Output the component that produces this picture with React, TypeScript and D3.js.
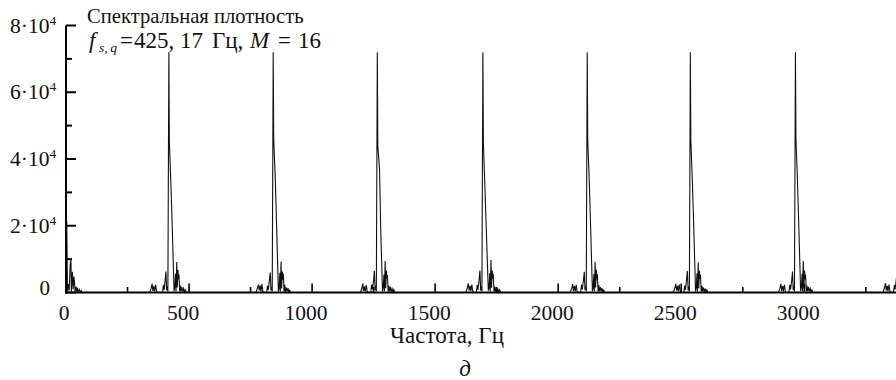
import React from 'react';
import * as d3 from 'd3';

// Spectral density samples: [frequency, Hz; density]
const dcComponent: [number, number][] = [
  [0, 22500], [3, 21000], [6, 400], [10, 2500], [13, 600], [17, 8500], [20, 9800], [22, 400],
  [26, 6200], [29, 900], [32, 4800], [34, 3600], [37, 300], [41, 1800], [43, 300], [47, 1400],
  [49, 200], [54, 900], [57, 100], [62, 600], [66, 0],
];

const harmonic1: [number, number][] = [
  [340, 0], [346, 1300], [350, 2600], [353, 500], [357, 1900], [360, 300], [364, 2300], [368, 400], [372, 0],
  [392, 0], [396, 2300], [399, 800], [403, 3800], [406, 6300], [409, 700], [412, 1900], [414, 300],
  [418, 72000], [420, 45000], [426, 33000], [432, 19000], [439, 400],
  [442, 1500], [445, 5600], [447, 400], [450, 9100], [452, 1500], [455, 6700], [457, 4000], [459, 5400],
  [462, 400], [465, 2100], [467, 300], [471, 1600], [474, 300], [478, 1200], [481, 200], [485, 800], [489, 0],
];

const harmonic2: [number, number][] = [
  [772, 0], [778, 1400], [782, 2400], [785, 600], [789, 2100], [792, 300], [796, 2500], [800, 300], [804, 0],
  [815, 0], [819, 2000], [822, 700], [827, 4100], [830, 6000], [833, 600], [836, 1700], [838, 300],
  [842, 72000], [844, 46000], [850, 35000], [856, 19500], [863, 300],
  [866, 1200], [869, 5900], [871, 300], [874, 9300], [876, 1200], [879, 6300], [881, 3800], [883, 5700],
  [886, 300], [889, 2300], [891, 200], [895, 1500], [898, 300], [902, 1300], [905, 200], [909, 700], [913, 0],
];

const harmonic3: [number, number][] = [
  [1196, 0], [1202, 1200], [1206, 2700], [1209, 500], [1213, 1800], [1216, 300], [1220, 2200], [1224, 300], [1228, 0],
  [1238, 0], [1242, 2400], [1245, 900], [1250, 3600], [1253, 6500], [1256, 700], [1259, 2000], [1261, 300],
  [1265, 72000], [1267, 44000], [1274, 37000], [1279, 18600], [1286, 400],
  [1289, 1400], [1292, 5400], [1294, 400], [1297, 9400], [1299, 1300], [1302, 6600], [1304, 4200], [1306, 5200],
  [1309, 300], [1312, 2000], [1314, 300], [1318, 1700], [1321, 200], [1325, 1100], [1328, 200], [1332, 900], [1336, 0],
];

const harmonic4: [number, number][] = [
  [1625, 0], [1631, 1500], [1635, 2700], [1638, 600], [1642, 2000], [1645, 400], [1649, 2400], [1653, 300], [1657, 0],
  [1667, 0], [1671, 2200], [1674, 800], [1679, 4000], [1682, 6600], [1685, 600], [1688, 1800], [1690, 300],
  [1694, 72000], [1696, 44800], [1702, 32000], [1708, 18600], [1716, 600],
  [1719, 1300], [1722, 5800], [1724, 300], [1727, 9700], [1729, 1400], [1732, 6600], [1734, 4100], [1736, 5600],
  [1739, 300], [1742, 1800], [1744, 300], [1748, 1500], [1751, 200], [1755, 1200], [1758, 200], [1762, 800], [1766, 0],
];

const harmonic5: [number, number][] = [
  [2049, 0], [2055, 1300], [2059, 2500], [2062, 500], [2066, 1900], [2069, 300], [2073, 2300], [2077, 300], [2081, 0],
  [2091, 0], [2095, 2300], [2098, 900], [2103, 3900], [2106, 6200], [2109, 700], [2112, 1900], [2114, 300],
  [2118, 72000], [2120, 46000], [2126, 34000], [2132, 19000], [2139, 400],
  [2142, 1500], [2145, 5500], [2147, 400], [2150, 9200], [2152, 1500], [2155, 6800], [2157, 3900], [2159, 5500],
  [2162, 400], [2165, 2200], [2167, 300], [2171, 1600], [2174, 300], [2178, 1300], [2181, 200], [2185, 700], [2189, 0],
];

const harmonic6: [number, number][] = [
  [2468, 0], [2474, 1400], [2478, 2600], [2481, 600], [2485, 2000], [2488, 300], [2492, 2400], [2496, 400], [2500, 0],
  [2510, 0], [2514, 2100], [2517, 800], [2522, 4200], [2525, 6400], [2528, 600], [2531, 1800], [2533, 300],
  [2537, 72000], [2539, 45500], [2545, 33500], [2551, 19200], [2558, 400],
  [2561, 1400], [2564, 5700], [2566, 300], [2569, 9000], [2571, 1300], [2574, 6500], [2576, 4000], [2578, 5300],
  [2581, 300], [2584, 2000], [2586, 300], [2590, 1500], [2593, 200], [2597, 1200], [2600, 200], [2604, 800], [2608, 0],
];

const harmonic7: [number, number][] = [
  [2895, 0], [2901, 1300], [2905, 2600], [2908, 500], [2912, 1900], [2915, 300], [2919, 2300], [2923, 300], [2927, 0],
  [2937, 0], [2941, 2300], [2944, 900], [2949, 3700], [2952, 6300], [2955, 700], [2958, 1900], [2960, 300],
  [2964, 72000], [2966, 46000], [2972, 34000], [2978, 19000], [2985, 400],
  [2988, 1500], [2991, 5600], [2993, 400], [2996, 9400], [2998, 1400], [3001, 6600], [3003, 4000], [3005, 5400],
  [3008, 400], [3011, 2100], [3013, 300], [3017, 1600], [3020, 300], [3024, 1200], [3027, 200], [3031, 800], [3035, 0],
];

const harmonic8: [number, number][] = [
  [3320, 0], [3326, 1500], [3330, 2800], [3333, 600], [3337, 2000], [3340, 400], [3344, 2400], [3348, 300], [3352, 0],
  [3362, 0], [3366, 2200], [3369, 900], [3374, 4000], [3377, 6300], [3380, 700], [3383, 1900], [3385, 300],
  [3389, 72000], [3391, 46000], [3397, 34000], [3403, 19000], [3410, 400],
];

const spectrum: [number, number][] = [
  ...dcComponent, ...harmonic1, ...harmonic2, ...harmonic3, ...harmonic4,
  ...harmonic5, ...harmonic6, ...harmonic7, ...harmonic8,
];

const xMajorTicks = [0, 500, 1000, 1500, 2000, 2500, 3000];
const xMinorTicks = [250, 750, 1250, 1750, 2250, 2750, 3250];
const yMajorTicks = [0, 20000, 40000, 60000, 80000];
const yMinorTicks = [10000, 30000, 50000, 70000];
const yTickMantissas = ['0', '2', '4', '6', '8'];

const W = 896;
const H = 380;
const SERIF = 'Liberation Serif';

export default function App() {
  const x = d3.scaleLinear().domain([0, 3400]).range([66, 66 + 3400 * 0.2461]);
  const y = d3.scaleLinear().domain([0, 80000]).range([292.5, 25.5]);
  const line = d3
    .line<[number, number]>()
    .x((d) => x(d[0]))
    .y((d) => y(d[1]));

  const x0 = x(0);
  const y0 = y(0);

  return (
    <svg
      width={W}
      height={H}
      viewBox={`0 0 ${W} ${H}`}
      style={{ position: 'absolute', left: 0, top: 0, background: '#fff' }}
    >
      <style>{`.lbl { font-family: 'Liberation Serif', 'Times New Roman', Times, serif; fill: #111; }`}</style>
      <rect x={0} y={0} width={W} height={H} fill="#fff" />

      {/* spectrum trace */}
      <path d={line(spectrum) ?? ''} fill="none" stroke="#111" strokeWidth={1.1} strokeLinejoin="miter" />

      {/* y axis */}
      <line x1={x0} x2={x0} y1={y0 + 1} y2={y(80000)} stroke="#000" strokeWidth={2} />
      {yMajorTicks.map((t) => (
        <line key={`ym${t}`} x1={x0} x2={x0 + 10} y1={y(t)} y2={y(t)} stroke="#000" strokeWidth={2} />
      ))}
      {yMinorTicks.map((t) => (
        <line key={`yn${t}`} x1={x0} x2={x0 + 6} y1={y(t)} y2={y(t)} stroke="#000" strokeWidth={2} />
      ))}
      <g className="lbl" fontFamily={SERIF}>
        {yMajorTicks.map((t, i) =>
          t === 0 ? (
            <text key={`yl${t}`} className="lbl" x={50} y={y(t) + 2} fontSize={21} textAnchor="end">
              0
            </text>
          ) : (
            <text key={`yl${t}`} className="lbl" x={10} y={y(t) + 7} fontSize={21.5}>
              {`${yTickMantissas[i]}·10`}
              <tspan fontSize={13.5} dy={-8}>4</tspan>
            </text>
          )
        )}
      </g>

      {/* x axis */}
      <line x1={x0 - 1} x2={W} y1={y0} y2={y0} stroke="#000" strokeWidth={2} />
      {xMajorTicks.map((t) => (
        <line key={`xm${t}`} x1={x(t)} x2={x(t)} y1={y0} y2={y0 - 9} stroke="#000" strokeWidth={1.6} />
      ))}
      {xMinorTicks.map((t) => (
        <line key={`xn${t}`} x1={x(t)} x2={x(t)} y1={y0} y2={y0 - 5.5} stroke="#000" strokeWidth={1.6} />
      ))}
      <g className="lbl" fontFamily={SERIF}>
        {xMajorTicks.map((t) => (
          <text
            key={`xl${t}`}
            className="lbl"
            x={x(t) + (t === 0 ? -2 : -6)}
            y={320}
            fontSize={21.5}
            textAnchor="middle"
          >
            {t}
          </text>
        ))}

        {/* axis title and panel letter */}
        <text className="lbl" x={447} y={343} fontSize={23} textAnchor="middle">
          Частота, Гц
        </text>
        <text className="lbl" x={465} y={376} fontSize={23} textAnchor="middle" fontStyle="italic">
          д
        </text>

        {/* caption */}
        <text className="lbl" x={87} y={23} fontSize={20.6}>
          Спектральная плотность
        </text>
        <text className="lbl" y={48} fontSize={23}>
          <tspan x={89} fontStyle="italic">f</tspan>
          <tspan x={99} fontStyle="italic" fontSize={13.5} dy={4}>{'s,\u2009q'}</tspan>
          <tspan x={120} dy={-4}>=</tspan>
          <tspan x={134}>425, 17</tspan>
          <tspan x={212}>Гц,</tspan>
          <tspan x={250} fontStyle="italic">M</tspan>
          <tspan x={278}>=</tspan>
          <tspan x={298}>16</tspan>
        </text>
      </g>
    </svg>
  );
}
